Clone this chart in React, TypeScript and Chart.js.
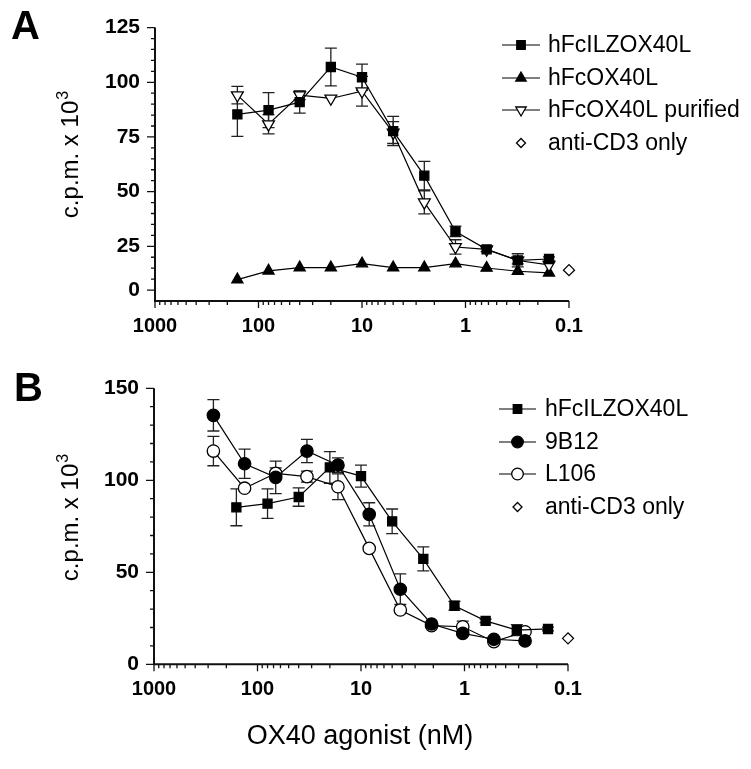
import React, { useEffect, useRef } from 'react';
import { Chart, registerables } from 'chart.js';

Chart.register(...registerables);

const FONT = 'Arial, "Liberation Sans", Helvetica, sans-serif';

// ---------- Panel A data (concentration in nM, c.p.m. x 10^3) ----------
const concA = [160, 80, 40, 20, 10, 5, 2.5, 1.25, 0.625, 0.3125, 0.156];
const ilzMean = [85.3, 87.3, 90.9, 107, 102.3, 77.7, 57.3, 31.8, 23.6, 18.6, 19.2];
const ilzErr = [10, 8, 5, 8.6, 6, 6.7, 6.5, 2.4, 1, 3, 1];
const fcMean = [9.8, 13.8, 15.3, 15.3, 17.1, 15.3, 15.3, 17.1, 15.1, 13.6, 12.9];
const purMean = [94.1, 80.8, 94.1, 92.6, 95.9, 77, 45.1, 24.7, 23.6, 18.5, 16.5];
const purErr = [4, 4.4, 2, 0, 6.8, 5, 5.3, 3.3, 0, 1.5, 0];
const cd3Conc = [0.1];
const cd3Mean = [14.1];

// ---------- Panel B data ----------
const concB = [266.7, 133.3, 66.7, 33.3, 16.7, 8.33, 4.17, 2.08, 1.04, 0.52, 0.26];
const b12Mean = [135.3, 109, 101.6, 115.9, 108.2, 81.5, 40.8, 21.9, 16.8, 13.6, 12.7];
const b12Err = [8.5, 7.9, 8.8, 6.3, 4, 6.3, 8.3, 0, 0, 0, 0];
const l106Mean = [115.9, 95.7, 103.8, 102, 96.5, 63, 29.5, 21, 20.4, 12.3, 17.7];
const l106Err = [8, 0, 3, 3, 7, 0, 0, 0, 3.1, 0, 0];

// ---------- Ticks / labels ----------
const xTickValues = [1000, 100, 10, 1, 0.1];
const xTickLabels = ['1000', '100', '10', '1', '0.1'];
const yTickValuesA = [5, 25, 50, 75, 100, 125];
const yTickLabelsA = ['0', '25', '50', '75', '100', '125'];
const yTickValuesB = [0, 50, 100, 150];
const yTickLabelsB = ['0', '50', '100', '150'];
const legendLabelsA = ['hFcILZOX40L', 'hFcOX40L', 'hFcOX40L purified', 'anti-CD3 only'];
const legendLabelsB = ['hFcILZOX40L', '9B12', 'L106', 'anti-CD3 only'];
const xTitle = 'OX40 agonist (nM)';
const yTitleMain = 'c.p.m. x 10';
const yTitleSup = '3';

type Style = 'rect' | 'triangle' | 'triangleDown' | 'circle' | 'diamond';

function drawMarker(ctx: CanvasRenderingContext2D, style: Style, x: number, y: number, r: number, filled: boolean) {
  ctx.save();
  ctx.beginPath();
  if (style === 'rect') {
    const s = r * Math.SQRT1_2;
    ctx.rect(x - s, y - s, 2 * s, 2 * s);
  } else if (style === 'triangle' || style === 'triangleDown') {
    const base = style === 'triangle' ? -Math.PI / 2 : Math.PI / 2;
    for (let i = 0; i < 3; i++) {
      const a = base + (i * 2 * Math.PI) / 3;
      const px = x + r * Math.cos(a);
      const py = y + r * Math.sin(a);
      if (i === 0) ctx.moveTo(px, py);
      else ctx.lineTo(px, py);
    }
    ctx.closePath();
  } else if (style === 'circle') {
    ctx.arc(x, y, r, 0, Math.PI * 2);
  } else {
    ctx.moveTo(x, y - r);
    ctx.lineTo(x + r, y);
    ctx.lineTo(x, y + r);
    ctx.lineTo(x - r, y);
    ctx.closePath();
  }
  ctx.fillStyle = filled ? '#000' : '#fff';
  ctx.fill();
  ctx.lineWidth = 1.3;
  ctx.strokeStyle = '#000';
  ctx.stroke();
  ctx.restore();
}

function makeDataset(label: string, xs: number[], ys: number[], errs: number[] | null, style: Style, r: number, filled: boolean, showLine = true) {
  return {
    label,
    data: xs.map((x, i) => ({ x, y: ys[i] })),
    errors: errs,
    showLine,
    borderColor: '#000',
    borderWidth: 1.2,
    pointStyle: style === 'triangleDown' ? 'triangle' : style === 'diamond' ? 'rectRot' : style,
    rotation: style === 'triangleDown' ? 180 : 0,
    pointRadius: r,
    pointBackgroundColor: filled ? '#000' : '#fff',
    pointBorderColor: '#000',
    pointBorderWidth: 1.3,
    clip: false,
    tension: 0,
    fill: false,
  };
}

type LegendItem = { label: string; style: Style; r: number; filled: boolean; line: boolean };

type Panel = {
  top: number;
  height: number;
  area: { left: number; right: number; top: number; bottom: number };
  yMax: number;
  yTickValues: number[];
  yTickLabels: string[];
  yMinorStep: number;
  yMinorStart: number;
  letter: string;
  letterX: number;
  letterY: number;
  yTitleCenter: number;
  legend: LegendItem[];
  legendRows: number[];
  legendLine: [number, number];
  legendMarkerX: number;
  legendTextX: number;
  showXTitle: boolean;
  datasets: any[];
};

const panelA: Panel = {
  top: 0,
  height: 350,
  area: { left: 155, right: 569, top: 25, bottom: 301 },
  yMax: 125,
  yTickValues: yTickValuesA,
  yTickLabels: yTickLabelsA,
  yMinorStep: 5,
  yMinorStart: 5,
  letter: 'A',
  letterX: 11,
  letterY: 39,
  yTitleCenter: 155,
  legend: [
    { label: legendLabelsA[0], style: 'rect', r: 6, filled: true, line: true },
    { label: legendLabelsA[1], style: 'triangle', r: 6, filled: true, line: true },
    { label: legendLabelsA[2], style: 'triangleDown', r: 6, filled: false, line: true },
    { label: legendLabelsA[3], style: 'diamond', r: 4.5, filled: false, line: false },
  ],
  legendRows: [45, 78, 110, 143],
  legendLine: [502, 540],
  legendMarkerX: 521,
  legendTextX: 548,
  showXTitle: false,
  datasets: [
    makeDataset(legendLabelsA[0], concA, ilzMean, ilzErr, 'rect', 6.4, true),
    makeDataset(legendLabelsA[2], concA, purMean, purErr, 'triangleDown', 6.8, false),
    makeDataset(legendLabelsA[1], concA, fcMean, null, 'triangle', 6.4, true),
    makeDataset(legendLabelsA[3], cd3Conc, cd3Mean, null, 'diamond', 5.5, false, false),
  ],
};

const panelB: Panel = {
  top: 350,
  height: 419,
  area: { left: 154, right: 568, top: 38.3, bottom: 314.3 },
  yMax: 150,
  yTickValues: yTickValuesB,
  yTickLabels: yTickLabelsB,
  yMinorStep: 10,
  yMinorStart: 0,
  letter: 'B',
  letterX: 14,
  letterY: 51,
  yTitleCenter: 168,
  legend: [
    { label: legendLabelsB[0], style: 'rect', r: 6, filled: true, line: true },
    { label: legendLabelsB[1], style: 'circle', r: 5.8, filled: true, line: true },
    { label: legendLabelsB[2], style: 'circle', r: 5.8, filled: false, line: true },
    { label: legendLabelsB[3], style: 'diamond', r: 4.5, filled: false, line: false },
  ],
  legendRows: [59, 92, 124, 157],
  legendLine: [499, 536],
  legendMarkerX: 517.5,
  legendTextX: 545,
  showXTitle: true,
  datasets: [
    makeDataset(legendLabelsB[1], concB, b12Mean, b12Err, 'circle', 6.2, true),
    makeDataset(legendLabelsB[0], concA, ilzMean, ilzErr, 'rect', 6.4, true),
    makeDataset(legendLabelsB[2], concB, l106Mean, l106Err, 'circle', 6.2, false),
    makeDataset(legendLabelsB[3], cd3Conc, cd3Mean, null, 'diamond', 5.5, false, false),
  ],
};

function buildChart(canvas: HTMLCanvasElement, p: Panel) {
  const W = 751;
  const decorPlugin = {
    id: 'decor' + p.letter,
    beforeDatasetsDraw(chart: any) {
      const ctx: CanvasRenderingContext2D = chart.ctx;
      const xs = chart.scales.x;
      const ys = chart.scales.y;
      ctx.save();
      ctx.strokeStyle = '#222';
      ctx.lineWidth = 1.3;
      chart.data.datasets.forEach((ds: any) => {
        if (!ds.errors) return;
        ds.data.forEach((pt: any, i: number) => {
          const e = ds.errors[i];
          if (!e) return;
          const px = xs.getPixelForValue(pt.x);
          const y1 = ys.getPixelForValue(pt.y + e);
          const y2 = ys.getPixelForValue(pt.y - e);
          ctx.beginPath();
          ctx.moveTo(px, y1);
          ctx.lineTo(px, y2);
          ctx.moveTo(px - 6, y1);
          ctx.lineTo(px + 6, y1);
          ctx.moveTo(px - 6, y2);
          ctx.lineTo(px + 6, y2);
          ctx.stroke();
        });
      });
      ctx.restore();
    },
    afterDraw(chart: any) {
      const ctx: CanvasRenderingContext2D = chart.ctx;
      const xs = chart.scales.x;
      const ys = chart.scales.y;
      const a = chart.chartArea;
      ctx.save();
      // axes
      ctx.strokeStyle = '#111';
      ctx.lineWidth = 2;
      ctx.beginPath();
      ctx.moveTo(a.left, ys.getPixelForValue(p.yMax));
      ctx.lineTo(a.left, a.bottom + 1);
      ctx.moveTo(a.left - 1, a.bottom);
      ctx.lineTo(a.right, a.bottom);
      ctx.stroke();
      // x ticks (log decades with minor ticks)
      ctx.lineWidth = 1.3;
      ctx.beginPath();
      for (let e = -1; e <= 3; e++) {
        for (let k = 1; k <= 9; k++) {
          const v = k * Math.pow(10, e);
          if (v > 1000.0001 || v < 0.0999) continue;
          const px = xs.getPixelForValue(v);
          const len = k === 1 ? 7 : 4;
          ctx.moveTo(px, a.bottom);
          ctx.lineTo(px, a.bottom + len);
        }
      }
      // y ticks
      for (let v = p.yMinorStart; v <= p.yMax + 0.001; v += p.yMinorStep) {
        const py = ys.getPixelForValue(v);
        const major = p.yTickValues.indexOf(v) >= 0;
        const len = major ? 8 : 4;
        ctx.moveTo(a.left, py);
        ctx.lineTo(a.left - len, py);
      }
      ctx.stroke();

      // panel letter
      ctx.fillStyle = '#000';
      ctx.font = `bold 40px ${FONT}`;
      ctx.textAlign = 'left';
      ctx.textBaseline = 'alphabetic';
      ctx.fillText(p.letter, p.letterX, p.letterY);

      // y title
      ctx.save();
      ctx.translate(78, p.yTitleCenter);
      ctx.rotate(-Math.PI / 2);
      ctx.font = `24px ${FONT}`;
      const wMain = ctx.measureText(yTitleMain).width;
      ctx.font = `16px ${FONT}`;
      const wSup = ctx.measureText(yTitleSup).width;
      const start = -(wMain + wSup) / 2;
      ctx.font = `24px ${FONT}`;
      ctx.textAlign = 'left';
      ctx.fillText(yTitleMain, start, 0);
      ctx.font = `16px ${FONT}`;
      ctx.fillText(yTitleSup, start + wMain + 1, -10);
      ctx.restore();

      // legend
      ctx.font = `23px ${FONT}`;
      ctx.textBaseline = 'middle';
      ctx.textAlign = 'left';
      p.legend.forEach((it, i) => {
        const y = p.legendRows[i];
        if (it.line) {
          ctx.strokeStyle = '#000';
          ctx.lineWidth = 1.2;
          ctx.beginPath();
          ctx.moveTo(p.legendLine[0], y);
          ctx.lineTo(p.legendLine[1], y);
          ctx.stroke();
        }
        drawMarker(ctx, it.style, p.legendMarkerX, y, it.r, it.filled);
        ctx.fillStyle = '#000';
        ctx.fillText(it.label, p.legendTextX, y + 1);
      });

      if (p.showXTitle) {
        ctx.font = `27px ${FONT}`;
        ctx.textAlign = 'center';
        ctx.textBaseline = 'alphabetic';
        ctx.fillText(xTitle, 360, 394);
      }
      ctx.restore();
    },
  };

  return new Chart(canvas, {
    type: 'line',
    data: { datasets: p.datasets },
    options: {
      responsive: false,
      animation: false,
      devicePixelRatio: 1,
      layout: { padding: { left: 0, right: W - p.area.right, top: p.area.top, bottom: 0 } },
      plugins: { legend: { display: false }, tooltip: { enabled: false } },
      scales: {
        x: {
          type: 'logarithmic',
          reverse: true,
          min: 0.1,
          max: 1000,
          afterBuildTicks: (s: any) => {
            s.ticks = xTickValues.map((v) => ({ value: v }));
          },
          afterFit: (s: any) => {
            s.height = p.height - p.area.bottom;
          },
          grid: { display: false, drawTicks: false },
          border: { display: false },
          ticks: {
            autoSkip: false,
            maxRotation: 0,
            padding: 13,
            color: '#000',
            font: { family: FONT, size: 20, weight: 'bold' },
            callback: (v: any) => {
              const i = xTickValues.findIndex((t) => Math.abs(t - Number(v)) < 1e-9);
              return i >= 0 ? xTickLabels[i] : '';
            },
          },
        },
        y: {
          type: 'linear',
          min: 0,
          max: p.yMax,
          afterBuildTicks: (s: any) => {
            s.ticks = p.yTickValues.map((v) => ({ value: v }));
          },
          afterFit: (s: any) => {
            s.width = p.area.left;
          },
          grid: { display: false, drawTicks: false },
          border: { display: false },
          ticks: {
            autoSkip: false,
            padding: 15,
            color: '#000',
            font: { family: FONT, size: 21, weight: 'bold' },
            callback: (v: any) => {
              const i = p.yTickValues.indexOf(Number(v));
              return i >= 0 ? p.yTickLabels[i] : '';
            },
          },
        },
      },
    } as any,
    plugins: [decorPlugin],
  });
}

function Panel({ panel }: { panel: Panel }) {
  const ref = useRef<HTMLCanvasElement | null>(null);
  useEffect(() => {
    if (!ref.current) return;
    const chart = buildChart(ref.current, panel);
    return () => chart.destroy();
  }, [panel]);
  return (
    <canvas
      ref={ref}
      width={751}
      height={panel.height}
      style={{ position: 'absolute', left: 0, top: panel.top, width: 751, height: panel.height, display: 'block' }}
    />
  );
}

export default function App() {
  return (
    <div style={{ position: 'absolute', left: 0, top: 0, width: 751, height: 769, overflow: 'hidden', background: '#fff' }}>
      <Panel panel={panelA} />
      <Panel panel={panelB} />
    </div>
  );
}
